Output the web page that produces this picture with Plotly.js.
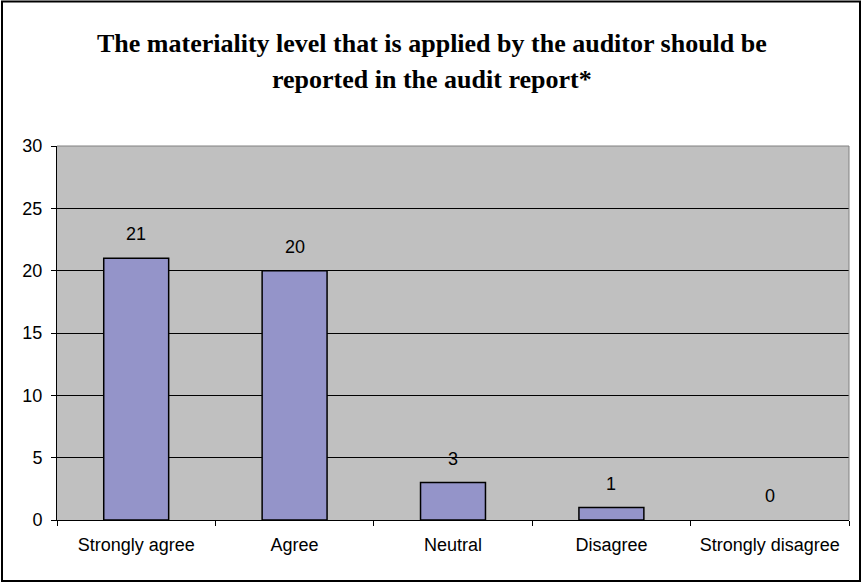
<!DOCTYPE html>
<html>
<head>
<meta charset="utf-8">
<script src="https://cdn.plot.ly/plotly-3.0.1.min.js"></script>
<style>html,body{margin:0;padding:0;background:#fff;}#chart{width:862px;height:583px;}</style>
</head>
<body>
<div id="chart"></div>
<script>
var categories = ["Strongly agree", "Agree", "Neutral", "Disagree", "Strongly disagree"];
var counts = [21, 20, 3, 1, 0];
var titleLines = ["The materiality level that is applied by the auditor should be", "reported in the audit report*"];
var yTicks = [0, 5, 10, 15, 20, 25, 30];

var L = 57, R = 13, T = 146, B = 63, W = 862, H = 583;
var pw = W - L - R, ph = H - T - B;
function px2x(p) { return (p - L) / pw; }
function py2y(p) { return (H - B - p) / ph; }

var annotations = categories.map(function (c, i) {
  return {
    x: c, y: counts[i], xref: 'x', yref: 'y', text: String(counts[i]),
    showarrow: false, yanchor: 'bottom', yshift: 12,
    font: {family: 'Liberation Sans, Arial, sans-serif', size: 18, color: '#000'}
  };
});
titleLines.forEach(function (t, i) {
  annotations.push({
    x: px2x(432), y: py2y(i === 0 ? 43 : 80), xref: 'paper', yref: 'paper',
    text: '<b>' + t + '</b>', showarrow: false, xanchor: 'center', yanchor: 'middle',
    font: {family: 'Liberation Serif, Times New Roman, serif', size: 26, color: '#000'}
  });
});

var data = [{
  type: 'bar', x: categories, y: counts,
  marker: {color: '#9494C9', line: {color: '#000', width: counts.map(function (v) { return v > 0 ? 1.5 : 0; })}},
  hoverinfo: 'none'
}];

var layout = {
  width: W, height: H,
  margin: {l: L, r: R, t: T, b: B, pad: 0},
  paper_bgcolor: '#fff', plot_bgcolor: '#C0C0C0',
  showlegend: false, bargap: 0.59,
  font: {family: 'Liberation Sans, Arial, sans-serif', size: 18, color: '#000'},
  xaxis: {
    type: 'category', tickson: 'boundaries', ticks: 'outside', ticklen: 5, tickcolor: '#000',
    showline: true, linecolor: '#000', linewidth: 1, showgrid: false,
    ticklabelstandoff: 8, tickfont: {size: 18}
  },
  yaxis: {
    range: [0, 30], tickvals: yTicks, ticks: 'outside', ticklen: 5, tickcolor: '#000',
    showline: true, linecolor: '#000', linewidth: 1, showgrid: true, gridcolor: '#000', gridwidth: 1,
    zeroline: false, ticklabelstandoff: 5, tickfont: {size: 18}
  },
  shapes: [
    {type: 'line', xref: 'paper', yref: 'paper', x0: 0, x1: 1, y0: 1, y1: 1, line: {color: '#808080', width: 1}},
    {type: 'line', xref: 'paper', yref: 'paper', x0: 1, x1: 1, y0: 0, y1: 1, line: {color: '#808080', width: 1}},
    {type: 'rect', xref: 'paper', yref: 'paper', x0: px2x(2), x1: px2x(860), y0: py2y(581), y1: py2y(1.5),
     line: {color: '#000', width: 2}, fillcolor: 'rgba(0,0,0,0)'}
  ],
  annotations: annotations
};

Plotly.newPlot('chart', data, layout, {displayModeBar: false, staticPlot: true});
</script>
</body>
</html>
